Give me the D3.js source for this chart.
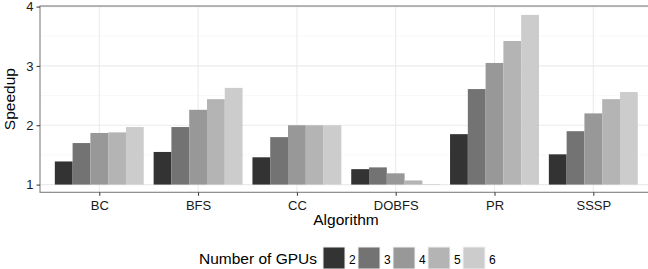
<!DOCTYPE html>
<html>
<head>
<meta charset="utf-8">
<script src="https://cdn.jsdelivr.net/npm/d3@7"></script>
<style>
  body { margin: 0; background: #fff; }
  svg { display: block; font-family: "Liberation Sans", Arial, Helvetica, sans-serif; }
</style>
</head>
<body>
<div id="chart"></div>
<script>
const algorithms = ["BC", "BFS", "CC", "DOBFS", "PR", "SSSP"];
const gpuCounts = ["2", "3", "4", "5", "6"];

// speedup per algorithm, one array per GPU count
const speedup2 = [1.39, 1.55, 1.46, 1.26, 1.85, 1.51];
const speedup3 = [1.70, 1.97, 1.80, 1.29, 2.61, 1.90];
const speedup4 = [1.87, 2.26, 2.00, 1.19, 3.05, 2.20];
const speedup5 = [1.88, 2.44, 2.00, 1.07, 3.42, 2.44];
const speedup6 = [1.97, 2.63, 2.00, 1.01, 3.86, 2.56];

const yTicks = [1, 2, 3, 4];
const yMinor = [1.5, 2.5, 3.5];

const series = [speedup2, speedup3, speedup4, speedup5, speedup6];
const data = [];
algorithms.forEach((alg, i) => {
    gpuCounts.forEach((g, j) => {
        data.push({ algorithm: alg, gpus: g, value: series[j][i] });
    });
});

const width = 648, height = 269;
const panel = { left: 40, right: 652.6, top: 6, bottom: 192.3 };

const svg = d3.select("#chart")
    .append("svg")
    .attr("width", width)
    .attr("height", height);

const x = d3.scalePoint()
    .domain(algorithms)
    .range([panel.left, panel.right])
    .padding(0.6);

const step = x.step();
const xInner = d3.scaleBand()
    .domain(gpuCounts)
    .range([-0.45 * step, 0.45 * step]);

const y = d3.scaleLinear()
    .domain([0.87, 4.01])
    .range([panel.bottom, panel.top]);

const colorScale = d3.scaleOrdinal()
    .domain(gpuCounts)
    .range(["#333333", "#737373", "#989898", "#b4b4b4", "#cccccc"]);

// grid lines
const grid = svg.append("g");
grid.selectAll(".minor")
    .data(yMinor)
    .enter().append("line")
    .attr("x1", panel.left).attr("x2", panel.right)
    .attr("y1", d => y(d)).attr("y2", d => y(d))
    .attr("stroke", "#f4f4f4").attr("stroke-width", 0.6);
grid.selectAll(".major")
    .data(yTicks)
    .enter().append("line")
    .attr("x1", panel.left).attr("x2", panel.right)
    .attr("y1", d => y(d)).attr("y2", d => y(d))
    .attr("stroke", "#ebebeb").attr("stroke-width", 1.1);
grid.selectAll(".vmajor")
    .data(algorithms)
    .enter().append("line")
    .attr("x1", d => x(d)).attr("x2", d => x(d))
    .attr("y1", panel.top).attr("y2", panel.bottom)
    .attr("stroke", "#ebebeb").attr("stroke-width", 1.1);

// bars, starting from speedup 1
svg.append("g")
    .selectAll("rect")
    .data(data)
    .enter().append("rect")
    .attr("x", d => x(d.algorithm) + xInner(d.gpus))
    .attr("width", xInner.bandwidth())
    .attr("y", d => y(Math.max(d.value, 1)))
    .attr("height", d => Math.abs(y(1) - y(d.value)))
    .attr("fill", d => colorScale(d.gpus));

// panel border
svg.append("rect")
    .attr("x", panel.left).attr("y", panel.top)
    .attr("width", panel.right - panel.left)
    .attr("height", panel.bottom - panel.top)
    .attr("fill", "none")
    .attr("stroke", "#7f7f7f")
    .attr("stroke-width", 1.1);

// y axis
const yAxis = svg.append("g")
    .attr("transform", `translate(${panel.left},0)`)
    .call(d3.axisLeft(y).tickValues(yTicks).tickSize(3.5).tickPadding(3).tickFormat(d3.format("d")));
yAxis.select(".domain").remove();
yAxis.selectAll(".tick line").attr("stroke", "#333");
yAxis.selectAll(".tick text").attr("fill", "#1a1a1a").style("font-size", "13px");

// x axis
const xAxis = svg.append("g")
    .attr("transform", `translate(0,${panel.bottom})`)
    .call(d3.axisBottom(x).tickSize(3.5).tickPadding(4.5));
xAxis.select(".domain").remove();
xAxis.selectAll(".tick line").attr("stroke", "#333");
xAxis.selectAll(".tick text").attr("fill", "#1a1a1a").style("font-size", "13px");

// axis titles
svg.append("text")
    .attr("x", 346)
    .attr("y", 225)
    .attr("text-anchor", "middle")
    .style("font-size", "15.5px")
    .text("Algorithm");

svg.append("text")
    .attr("transform", `translate(15,${(panel.top + panel.bottom) / 2}) rotate(-90)`)
    .attr("text-anchor", "middle")
    .style("font-size", "15.5px")
    .text("Speedup");

// legend
const legend = svg.append("g");
legend.append("text")
    .attr("x", 199)
    .attr("y", 264)
    .style("font-size", "15.5px")
    .text("Number of GPUs");

const keyX = d3.scalePoint().domain(gpuCounts).range([323, 463]);
const keys = legend.selectAll(".key")
    .data(gpuCounts)
    .enter().append("g")
    .attr("transform", d => `translate(${keyX(d)},247)`);
keys.append("rect")
    .attr("width", 22).attr("height", 22)
    .attr("fill", d => colorScale(d))
    .attr("stroke", "#f2f2f2").attr("stroke-width", 1);
keys.append("text")
    .attr("x", 26)
    .attr("y", 17)
    .style("font-size", "12px")
    .text(d => d);
</script>
</body>
</html>
